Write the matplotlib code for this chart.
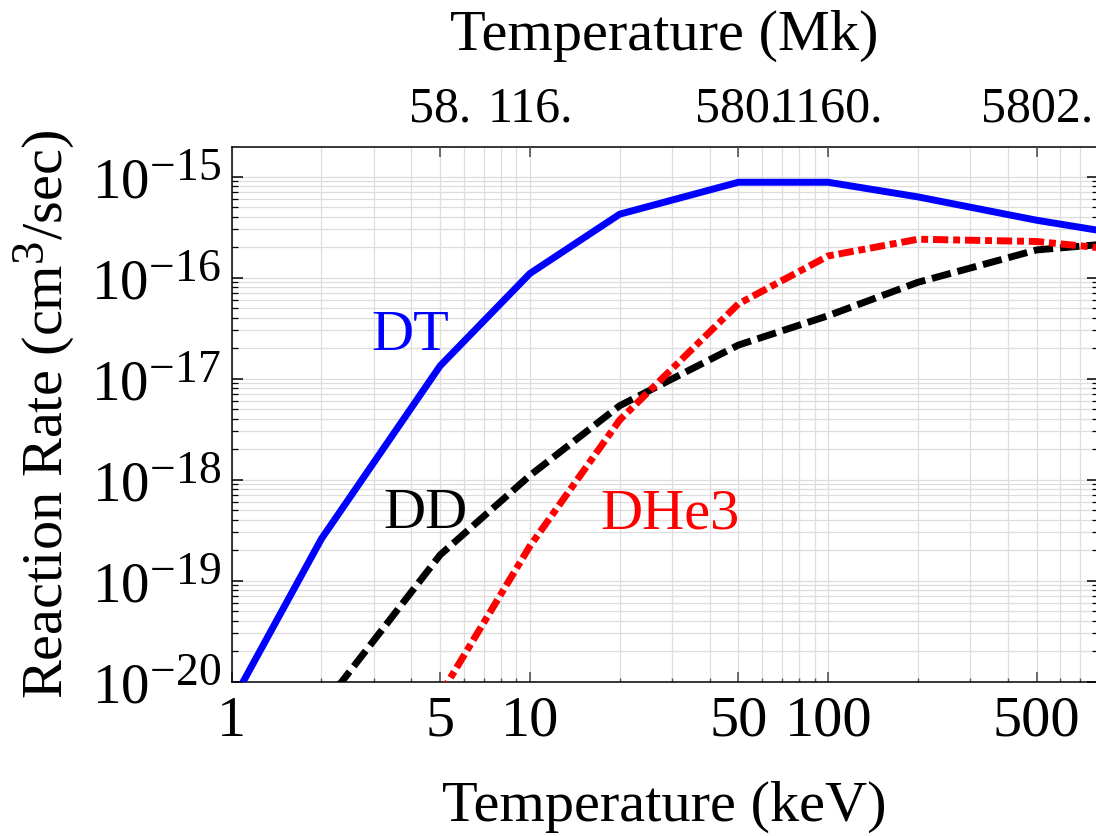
import matplotlib
matplotlib.use("Agg")
import matplotlib.pyplot as plt
import matplotlib._mathtext as mathtext_internals
from matplotlib.ticker import FixedLocator, LogLocator, NullFormatter, NullLocator

plt.rcParams['font.family'] = ['Liberation Serif', 'DejaVu Serif']
plt.rcParams['mathtext.fontset'] = 'custom'
plt.rcParams['mathtext.rm'] = 'Liberation Serif'
plt.rcParams['mathtext.it'] = 'Liberation Serif:italic'
plt.rcParams['mathtext.bf'] = 'Liberation Serif:bold'
plt.rcParams['lines.scale_dashes'] = False
# bigger exponents on the power-of-ten labels
mathtext_internals.SHRINK_FACTOR = 0.8

# Maxwellian-averaged reaction rates <sigma v> (cm^3/sec) vs temperature (keV)
DT_KEV = [1, 2, 5, 10, 20, 50, 100, 200, 500, 1000]
DT_RATE = [6.2e-21, 2.6e-19, 1.34e-17, 1.10e-16, 4.25e-16, 8.8e-16, 8.8e-16, 6.3e-16, 3.7e-16, 2.65e-16]

DD_KEV = [2, 5, 10, 20, 50, 100, 200, 500, 1000]
DD_RATE = [5.5e-21, 1.8e-19, 1.1e-18, 5.4e-18, 2.15e-17, 4.2e-17, 9.0e-17, 1.88e-16, 2.24e-16]

DHE3_KEV = [5, 10, 20, 50, 100, 200, 500, 1000]
DHE3_RATE = [7.4e-21, 2.2e-19, 3.9e-18, 5.5e-17, 1.64e-16, 2.4e-16, 2.28e-16, 1.86e-16]

KEV_TICKS = [1, 5, 10, 50, 100, 500]
MK_TICKS = [5, 10, 50, 100, 500]
MK_LABELS = ['58.', '116.', '580.', '1160.', '5802.']
Y_TICKS = [1e-20, 1e-19, 1e-18, 1e-17, 1e-16, 1e-15]
Y_LABELS = [r'$10^{-20}$', r'$10^{-19}$', r'$10^{-18}$', r'$10^{-17}$', r'$10^{-16}$', r'$10^{-15}$']

fig = plt.figure(figsize=(10.96, 8.36), dpi=100)
ax = fig.add_axes([0.2114, 0.1846, 0.790, 0.640])

ax.plot(DT_KEV, DT_RATE, color='#0000ff', lw=5, solid_joinstyle='miter', zorder=4)
ax.plot(DD_KEV, DD_RATE, color='black', lw=5, dashes=(14, 5), zorder=3)
ax.plot(DHE3_KEV, DHE3_RATE, color='#ff0000', lw=5, dashes=(11, 3.5, 5, 3.5), zorder=3)

ax.set_xscale('log')
ax.set_yscale('log')
ax.set_xlim(1, 800)
ax.set_ylim(1e-20, 10 ** -14.703)

ax.xaxis.set_major_locator(FixedLocator(KEV_TICKS))
ax.xaxis.set_ticklabels([str(v) for v in KEV_TICKS])
ax.xaxis.set_minor_locator(LogLocator(base=10, subs=range(1, 10)))
ax.xaxis.set_minor_formatter(NullFormatter())
ax.yaxis.set_major_locator(FixedLocator(Y_TICKS))
ax.yaxis.set_ticklabels(Y_LABELS)
ax.yaxis.set_minor_locator(LogLocator(base=10, subs=range(2, 10), numticks=20))
ax.yaxis.set_minor_formatter(NullFormatter())

ax.grid(True, which='both', color='#dddddd', lw=0.9, zorder=0)
ax.set_axisbelow(True)

ax.tick_params(axis='x', which='major', direction='in', length=7, width=1.2,
               color='#555555', labelsize=42, pad=10, top=False)
ax.tick_params(axis='x', which='minor', direction='in', length=3, width=1,
               color='#555555', top=False)
ax.tick_params(axis='y', which='major', direction='in', length=8, width=1.1,
               labelsize=41, pad=8, left=True, right=True)
ax.tick_params(axis='y', which='minor', direction='in', length=4, width=0.9,
               left=True, right=True)

for s in ax.spines.values():
    s.set_linewidth(1.1)

ax.set_xlabel('Temperature (keV)', fontsize=42, labelpad=24)
ax.set_ylabel(r'Reaction Rate (cm$^3$/sec)', fontsize=42, labelpad=10)

# Temperature in megakelvin along the top
top = ax.twiny()
top.set_xscale('log')
top.set_xlim(ax.get_xlim())
top.xaxis.set_major_locator(FixedLocator(MK_TICKS))
top.xaxis.set_ticklabels(MK_LABELS)
top.xaxis.set_minor_locator(NullLocator())
top.tick_params(axis='x', direction='in', length=7, width=1.2, color='#555555',
                labelsize=36, pad=10)
top.set_xlabel('Temperature (Mk)', fontsize=42, labelpad=26)
for s in top.spines.values():
    s.set_visible(False)

ax.text(3.96, 1.92e-17, 'DT', color='#0000ff', fontsize=42, ha='center', va='baseline')
ax.text(4.45, 3.3e-19, 'DD', color='black', fontsize=42, ha='center', va='baseline')
ax.text(29.5, 3.3e-19, 'DHe3', color='#ff0000', fontsize=42, ha='center', va='baseline')

fig.savefig('out.png', dpi=100)
